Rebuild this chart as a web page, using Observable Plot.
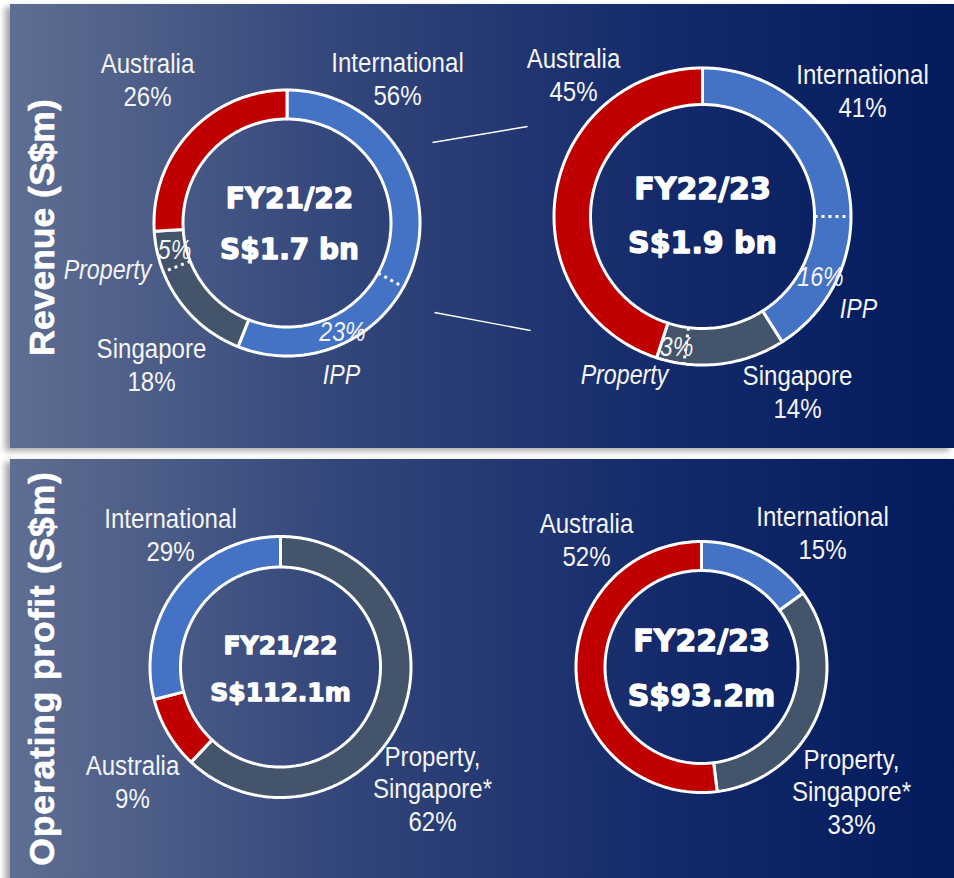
<!DOCTYPE html>
<html><head><meta charset="utf-8">
<script src="https://cdn.jsdelivr.net/npm/d3@7"></script>
<script src="https://cdn.jsdelivr.net/npm/@observablehq/plot@0.6"></script>
<style>
body{margin:0;background:#fff;}
#wrap{position:relative;width:954px;height:878px;overflow:hidden;background:#fff;}
.panel{position:absolute;left:10px;width:944px;background:linear-gradient(90deg,#5f6e92 0%,#33467a 35%,#13296a 70%,#021b5c 100%);box-shadow:-5px 3px 6px rgba(0,0,0,.35);}
#p1{top:4px;height:444px;}
#p2{top:459px;height:430px;}
#chart{position:absolute;left:0;top:0;}
</style></head>
<body>
<div id="wrap"><div class="panel" id="p1"></div><div class="panel" id="p2"></div><div id="chart"></div></div>
<script>
// ---------------- DATA ----------------
const periods = ["FY21/22", "FY22/23"];
const panelTitles = ["Revenue (S$m)", "Operating profit (S$m)"];
const revenueTotals = ["S$1.7 bn", "S$1.9 bn"];
const profitTotals = ["S$112.1m", "S$93.2m"];

// Revenue share (%) by segment, clockwise from 12 o'clock
const revSegments21 = ["International", "Singapore", "Australia"];
const revShares21 = [56, 18, 26];
const revSegments23 = ["International", "Singapore", "Australia"];
const revShares23 = [41, 14, 45];
// Sub-segments carved out at the end of their parent segment
const revSubParents = ["International", "Singapore"];
const revSubNames = ["IPP", "Property"];
const revSubShares21 = [23, 5];
const revSubShares23 = [16, 3];

// Operating profit share (%) by segment, clockwise from 12 o'clock
const opSegments21 = ["Property, Singapore*", "Australia", "International"];
const opShares21 = [62, 9, 29];
const opSegments23 = ["International", "Property, Singapore*", "Australia"];
const opShares23 = [15, 33, 52];

// ---------------- STYLE / LAYOUT ----------------
const W = 954, H = 878;
const colorDomain = ["International", "Singapore", "Australia", "Property, Singapore*"];
const colorRange = ["#4472c4", "#44546a", "#c00000", "#44546a"];
const labelFont = "'Liberation Sans Narrow', 'Liberation Sans', sans-serif";
const condense = 0.86;

const layout = {
  rev21: {cx: 286.5, cy: 222.5, r0: 104, r1: 133, tx: 289, size: 28, lines: [207, 258],
    labels: {International: [397, 104], Singapore: [151, 390], Australia: [147, 105]},
    subName: {IPP: [341, 383], Property: [107, 278]},
    subPct: {IPP: [342, 340], Property: [174, 258]}},
  rev23: {cx: 702, cy: 216, r0: 112, r1: 148.5, tx: 702, size: 30, lines: [198, 252],
    labels: {International: [862, 116], Singapore: [797, 417], Australia: [573, 100]},
    subName: {IPP: [858, 317], Property: [624, 383]},
    subPct: {IPP: [820, 285], Property: [676, 355]}},
  op21: {cx: 280, cy: 666.5, r0: 100, r1: 130.5, tx: 280, size: 25, lines: [653, 700],
    labels: {"Property, Singapore*": [432, 830], Australia: [132, 807], International: [170, 560]}},
  op23: {cx: 701, cy: 666.5, r0: 96.5, r1: 125.5, tx: 701, size: 30, lines: [650, 705],
    labels: {International: [822, 558], "Property, Singapore*": [851, 833], Australia: [586, 565]}}
};
const titlePos = [[53, 227], [53, 668]];
const connectors = [[432, 142, 527, 126], [434, 312, 530, 330]];

const donuts = [
  {key: "rev21", segments: revSegments21, shares: revShares21, sub: revSubShares21, period: periods[0], total: revenueTotals[0]},
  {key: "rev23", segments: revSegments23, shares: revShares23, sub: revSubShares23, period: periods[1], total: revenueTotals[1]},
  {key: "op21", segments: opSegments21, shares: opShares21, sub: null, period: periods[0], total: profitTotals[0]},
  {key: "op23", segments: opSegments23, shares: opShares23, sub: null, period: periods[1], total: profitTotals[1]}
];

// ---------------- BUILD ROWS ----------------
const arcRows = [], dotRows = [], labelRows = [], subNameRows = [], subPctRows = [], centerRows = [];
donuts.forEach(d => {
  const L = layout[d.key];
  const total = d3.sum(d.shares);
  let acc = 0;
  const starts = {};
  d.shares.forEach((v, i) => {
    const cat = d.segments[i];
    const f0 = acc / total, f1 = (acc + v) / total;
    starts[cat] = [f0, f1];
    const n = Math.max(4, Math.ceil((f1 - f0) * 360));
    const id = d.key + i;
    for (let k = 0; k <= n; k++) {
      const t = 2 * Math.PI * (f0 + (f1 - f0) * k / n);
      arcRows.push({id, cat, x: L.cx + L.r1 * Math.sin(t), y: L.cy - L.r1 * Math.cos(t)});
    }
    for (let k = n; k >= 0; k--) {
      const t = 2 * Math.PI * (f0 + (f1 - f0) * k / n);
      arcRows.push({id, cat, x: L.cx + L.r0 * Math.sin(t), y: L.cy - L.r0 * Math.cos(t)});
    }
    acc += v;
    const [lx, ly] = L.labels[cat];
    labelRows.push({x: lx, y: ly, text: cat.replace(", ", ",\n") + "\n" + v + "%"});
  });
  if (d.sub) {
    d.sub.forEach((v, j) => {
      const parent = revSubParents[j];
      const f = starts[parent][1] - v / total;
      const t = 2 * Math.PI * f;
      dotRows.push({x1: L.cx + L.r0 * Math.sin(t), y1: L.cy - L.r0 * Math.cos(t),
                    x2: L.cx + L.r1 * Math.sin(t), y2: L.cy - L.r1 * Math.cos(t)});
      const name = revSubNames[j];
      subNameRows.push({x: L.subName[name][0], y: L.subName[name][1], text: name});
      subPctRows.push({x: L.subPct[name][0], y: L.subPct[name][1], text: v + "%"});
    });
  }
  centerRows.push({x: L.tx, y: L.lines[0], size: L.size, text: d.period});
  centerRows.push({x: L.tx, y: L.lines[1], size: L.size, text: d.total});
});
const titleRows = panelTitles.map((t, i) => ({text: t, x: titlePos[i][0], y: titlePos[i][1]}));
const connRows = connectors.map(([x1, y1, x2, y2]) => ({x1, y1, x2, y2}));

const chart = Plot.plot({
  width: W, height: H, margin: 0,
  x: {domain: [0, W], range: [0, W], axis: null},
  y: {domain: [0, H], range: [0, H], axis: null},
  color: {domain: colorDomain, range: colorRange},
  style: {background: "transparent", overflow: "visible"},
  marks: [
    Plot.link(connRows, {x1: "x1", y1: "y1", x2: "x2", y2: "y2", stroke: "white", strokeWidth: 1.4}),
    Plot.line(arcRows, {x: "x", y: "y", z: "id", fill: "cat", stroke: "white", strokeWidth: 3, curve: "linear-closed", strokeLinejoin: "miter"}),
    Plot.link(dotRows, {x1: "x1", y1: "y1", x2: "x2", y2: "y2", stroke: "white", strokeWidth: 3, strokeDasharray: "3,4"}),
    Plot.text(centerRows, {x: "x", y: "y", text: "text", fontSize: "size", lineAnchor: "bottom", textAnchor: "middle",
      fill: "white", stroke: "white", strokeWidth: 1.3, fontWeight: "bold", fontFamily: "'DejaVu Sans', sans-serif"}),
    Plot.text(labelRows, {x: "x", y: "y", text: "text", fontSize: 28, lineHeight: 1.16, lineAnchor: "bottom", textAnchor: "middle",
      fill: "#f4f4f4", fontFamily: labelFont}),
    Plot.text(subNameRows, {x: "x", y: "y", text: "text", fontSize: 27, lineAnchor: "bottom", textAnchor: "middle",
      fill: "#f4f4f4", fontStyle: "italic", fontFamily: labelFont}),
    Plot.text(subPctRows, {x: "x", y: "y", text: "text", fontSize: 27, lineAnchor: "bottom", textAnchor: "middle",
      fill: "#f4f4f4", fontStyle: "italic", fontFamily: labelFont}),
    Plot.text(titleRows, {x: "x", y: "y", text: "text", rotate: -90, fontSize: 35.5, lineAnchor: "bottom", textAnchor: "middle",
      fill: "white", stroke: "white", strokeWidth: 0.6, fontWeight: "bold", fontFamily: "'Liberation Sans', Arial, sans-serif"})
  ]
});
document.getElementById("chart").appendChild(chart);

// Arial Narrow look-alike: condense the label glyphs horizontally around their anchor
chart.querySelectorAll("text").forEach(t => {
  const ff = getComputedStyle(t).fontFamily || "";
  if (ff.includes("Narrow")) {
    let tr = t.getAttribute("transform") || "";
    const x = t.getAttribute("x"), y = t.getAttribute("y");
    if (x != null || y != null) {
      tr += ` translate(${x || 0},${y || 0})`;
      t.removeAttribute("x"); t.removeAttribute("y");
    }
    t.setAttribute("transform", tr + ` scale(${condense},1)`);
  } else if (t.textContent.startsWith("Operating")) {
    t.setAttribute("letter-spacing", "0.8");
  }
});
</script>
</body></html>
